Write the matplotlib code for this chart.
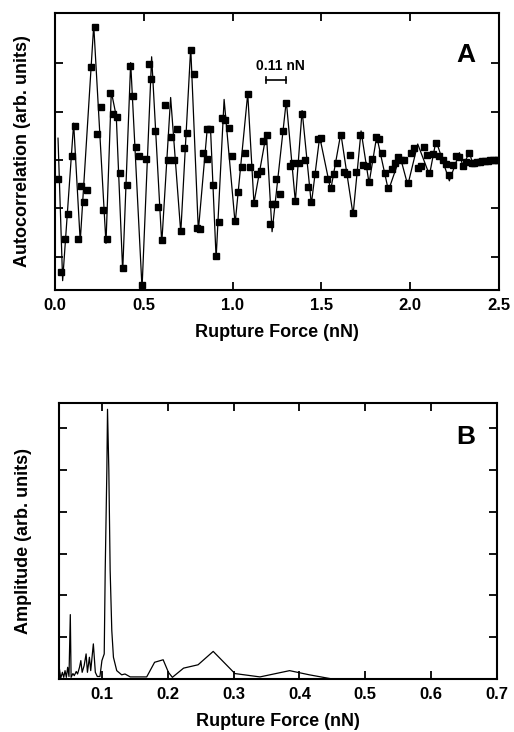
import numpy as np
import matplotlib.pyplot as plt

plt.rcParams['font.family'] = ['Liberation Sans', 'DejaVu Sans']
plt.rcParams['font.weight'] = 'bold'

# panel A: autocorrelation markers (nN, arb. units)
ac_x = [0.017, 0.036, 0.055, 0.073, 0.096, 0.111, 0.130, 0.148, 0.163, 0.182,
        0.201, 0.223, 0.238, 0.257, 0.272, 0.291, 0.310, 0.328, 0.347, 0.366,
        0.381, 0.403, 0.422, 0.437, 0.456, 0.475, 0.490, 0.512, 0.531, 0.539,
        0.563, 0.582, 0.601, 0.619, 0.638, 0.651, 0.670, 0.689, 0.708, 0.726,
        0.745, 0.764, 0.783, 0.801, 0.816, 0.835, 0.854, 0.858, 0.873, 0.888,
        0.907, 0.925, 0.939, 0.957, 0.981, 0.997, 1.014, 1.032, 1.051, 1.070,
        1.085, 1.100, 1.120, 1.139, 1.158, 1.171, 1.195, 1.209, 1.222, 1.237,
        1.246, 1.265, 1.284, 1.302, 1.321, 1.340, 1.353, 1.372, 1.391, 1.406,
        1.424, 1.443, 1.462, 1.481, 1.500, 1.533, 1.552, 1.571, 1.590, 1.609,
        1.627, 1.642, 1.659, 1.678, 1.697, 1.717, 1.736, 1.755, 1.768, 1.787,
        1.806, 1.824, 1.840, 1.858, 1.877, 1.896, 1.914, 1.933, 1.948, 1.967,
        1.986, 2.005, 2.023, 2.042, 2.061, 2.076, 2.093, 2.108, 2.127, 2.145,
        2.164, 2.183, 2.202, 2.220, 2.240, 2.258, 2.277, 2.296, 2.314, 2.333,
        2.346, 2.360, 2.375, 2.390, 2.405, 2.420, 2.435, 2.450, 2.465, 2.480, 2.495]
ac_y = [-0.40, -2.32, -1.64, -1.11, 0.08, 0.70, -1.64, -0.54, -0.86, -0.62,
        1.92, 2.75, 0.54, 1.10, -1.04, -1.64, 1.39, 0.95, 0.88, -0.26,
        -2.23, -0.52, 1.94, 1.32, 0.27, 0.09, -2.58, 0.03, 1.99, 1.68,
        0.60, -0.98, -1.66, 1.13, 0.01, 0.47, 0.01, 0.63, -1.46, 0.24,
        0.55, 2.27, 1.77, -1.41, -1.42, 0.15, 0.03, 0.65, 0.65, -0.52,
        -1.98, -1.27, 0.86, 0.82, 0.67, 0.09, -1.25, -0.67, -0.15, 0.15,
        1.36, -0.15, -0.88, -0.29, -0.22, 0.40, 0.52, -1.32, -0.91, -0.91,
        -0.40, -0.70, 0.60, 1.18, -0.12, -0.06, -0.84, -0.06, 0.95, 0.01,
        -0.56, -0.86, -0.29, 0.43, 0.45, -0.40, -0.58, -0.29, -0.06, 0.52,
        -0.24, -0.29, 0.10, -1.09, -0.24, 0.52, -0.10, -0.12, -0.45, 0.03,
        0.47, 0.43, 0.15, -0.26, -0.58, -0.19, -0.06, 0.06, 0.00, 0.00,
        -0.47, 0.15, 0.24, -0.17, -0.12, 0.27, 0.10, -0.27, 0.12, 0.36,
        0.08, 0.01, -0.08, -0.30, -0.10, 0.08, 0.06, -0.12, -0.04, 0.14,
        -0.07, -0.06, -0.05, -0.04, -0.03, -0.02, -0.015, -0.01, 0.0, 0.0, 0.0]

# panel A: smoothed curve vertices
fit_x = [0.017, 0.043, 0.105, 0.142, 0.218, 0.287, 0.317, 0.345, 0.381, 0.426,
         0.490, 0.544, 0.601, 0.651, 0.708, 0.764, 0.807, 0.858, 0.875, 0.907,
         0.952, 1.014, 1.085, 1.120, 1.190, 1.222, 1.302, 1.353, 1.391, 1.443,
         1.490, 1.552, 1.609, 1.678, 1.723, 1.768, 1.811, 1.877, 1.943, 1.986,
         2.042, 2.108, 2.145, 2.220, 2.277, 2.296, 2.333, 2.350, 2.420, 2.495]
fit_y = [0.45, -2.49, 0.76, -1.68, 2.78, -1.72, 1.41, 0.90, -2.30, 2.01,
         -2.65, 2.13, -1.72, 1.29, -1.50, 2.32, -1.46, 0.69, 0.69, -2.03,
         1.25, -1.31, 1.37, -0.89, 0.55, -1.48, 1.22, -0.86, 1.02, -0.91,
         0.48, -0.62, 0.55, -1.13, 0.60, -0.48, 0.49, -0.63, 0.07, -0.52,
         0.33, -0.31, 0.40, -0.43, 0.15, -0.14, 0.17, -0.07, -0.02, 0.0]

# panel B: amplitude spectrum
sp_x = [0.0355, 0.0375, 0.040, 0.042, 0.044, 0.046, 0.048, 0.050, 0.052, 0.0532,
        0.056, 0.058, 0.061, 0.063, 0.066, 0.068, 0.070, 0.073, 0.076, 0.078,
        0.081, 0.083, 0.087, 0.090, 0.093, 0.097, 0.100, 0.1035, 0.105, 0.1075,
        0.1085, 0.1105, 0.1125, 0.115, 0.1175, 0.1225, 0.130, 0.135, 0.143, 0.168,
        0.180, 0.193, 0.201, 0.207, 0.224, 0.246, 0.269, 0.302, 0.340, 0.385,
        0.415, 0.450, 0.700]
sp_y = [0.24, 0.02, 0.16, 0.04, 0.20, 0.04, 0.28, 0.06, 1.54, 0.04,
        0.13, 0.08, 0.18, 0.12, 0.28, 0.44, 0.16, 0.32, 0.60, 0.16,
        0.52, 0.20, 0.84, 0.16, 0.06, 0.06, 0.44, 0.60, 2.60, 5.00,
        6.45, 5.00, 2.60, 1.16, 0.52, 0.20, 0.10, 0.12, 0.05, 0.05,
        0.40, 0.46, 0.16, 0.04, 0.26, 0.34, 0.66, 0.13, 0.05, 0.20,
        0.10, 0.0, 0.0]

fig = plt.figure(figsize=(5.14, 7.32), dpi=100)
axA = fig.add_axes([0.107, 0.604, 0.864, 0.378])
axB = fig.add_axes([0.115, 0.0724, 0.852, 0.377])

axA.plot(fit_x, fit_y, color='black', lw=0.9)
axA.plot(ac_x, ac_y, 's', color='black', ms=3.8)
axA.set_xlim(0, 2.5)
axA.set_ylim(-2.68, 3.03)
axA.set_xticks([0, 0.5, 1.0, 1.5, 2.0, 2.5])
axA.set_xticklabels(['0.0', '0.5', '1.0', '1.5', '2.0', '2.5'])
axA.set_yticks([-2, -1, 0, 1, 2])
axA.set_yticklabels([])
axA.set_xlabel('Rupture Force (nN)', fontsize=13, fontweight='bold', labelpad=8)
axA.set_ylabel('Autocorrelation (arb. units)', fontsize=13, fontweight='bold')
axA.yaxis.set_label_coords(-0.054, 0.5)
axA.text(0.926, 0.848, 'A', transform=axA.transAxes, fontsize=19,
         fontweight='bold', ha='center', va='center')
# 0.11 nN scale bar
axA.plot([1.19, 1.30], [1.65, 1.65], color='black', lw=1.2)
axA.plot([1.19, 1.19], [1.58, 1.72], color='black', lw=1.2)
axA.plot([1.30, 1.30], [1.58, 1.72], color='black', lw=1.2)
axA.text(1.27, 1.94, '0.11 nN', fontsize=10, fontweight='bold', ha='center', va='center')

axB.plot(sp_x, sp_y, color='black', lw=0.9)
axB.set_xlim(0.035, 0.70)
axB.set_ylim(0, 6.6)
axB.set_xticks([0.1, 0.2, 0.3, 0.4, 0.5, 0.6, 0.7])
axB.set_yticks([1, 2, 3, 4, 5, 6])
axB.set_yticklabels([])
axB.set_xlabel('Rupture Force (nN)', fontsize=13, fontweight='bold', labelpad=8)
axB.set_ylabel('Amplitude (arb. units)', fontsize=13, fontweight='bold')
axB.yaxis.set_label_coords(-0.062, 0.5)
axB.text(0.929, 0.877, 'B', transform=axB.transAxes, fontsize=19,
         fontweight='bold', ha='center', va='center')

for ax in (axA, axB):
    for s in ax.spines.values():
        s.set_linewidth(1.5)
    ax.tick_params(direction='in', top=True, right=True, length=6, width=1.3,
                   labelsize=12, pad=6)
    for lab in ax.get_xticklabels():
        lab.set_fontweight('bold')

fig.savefig('out.png', dpi=100)
